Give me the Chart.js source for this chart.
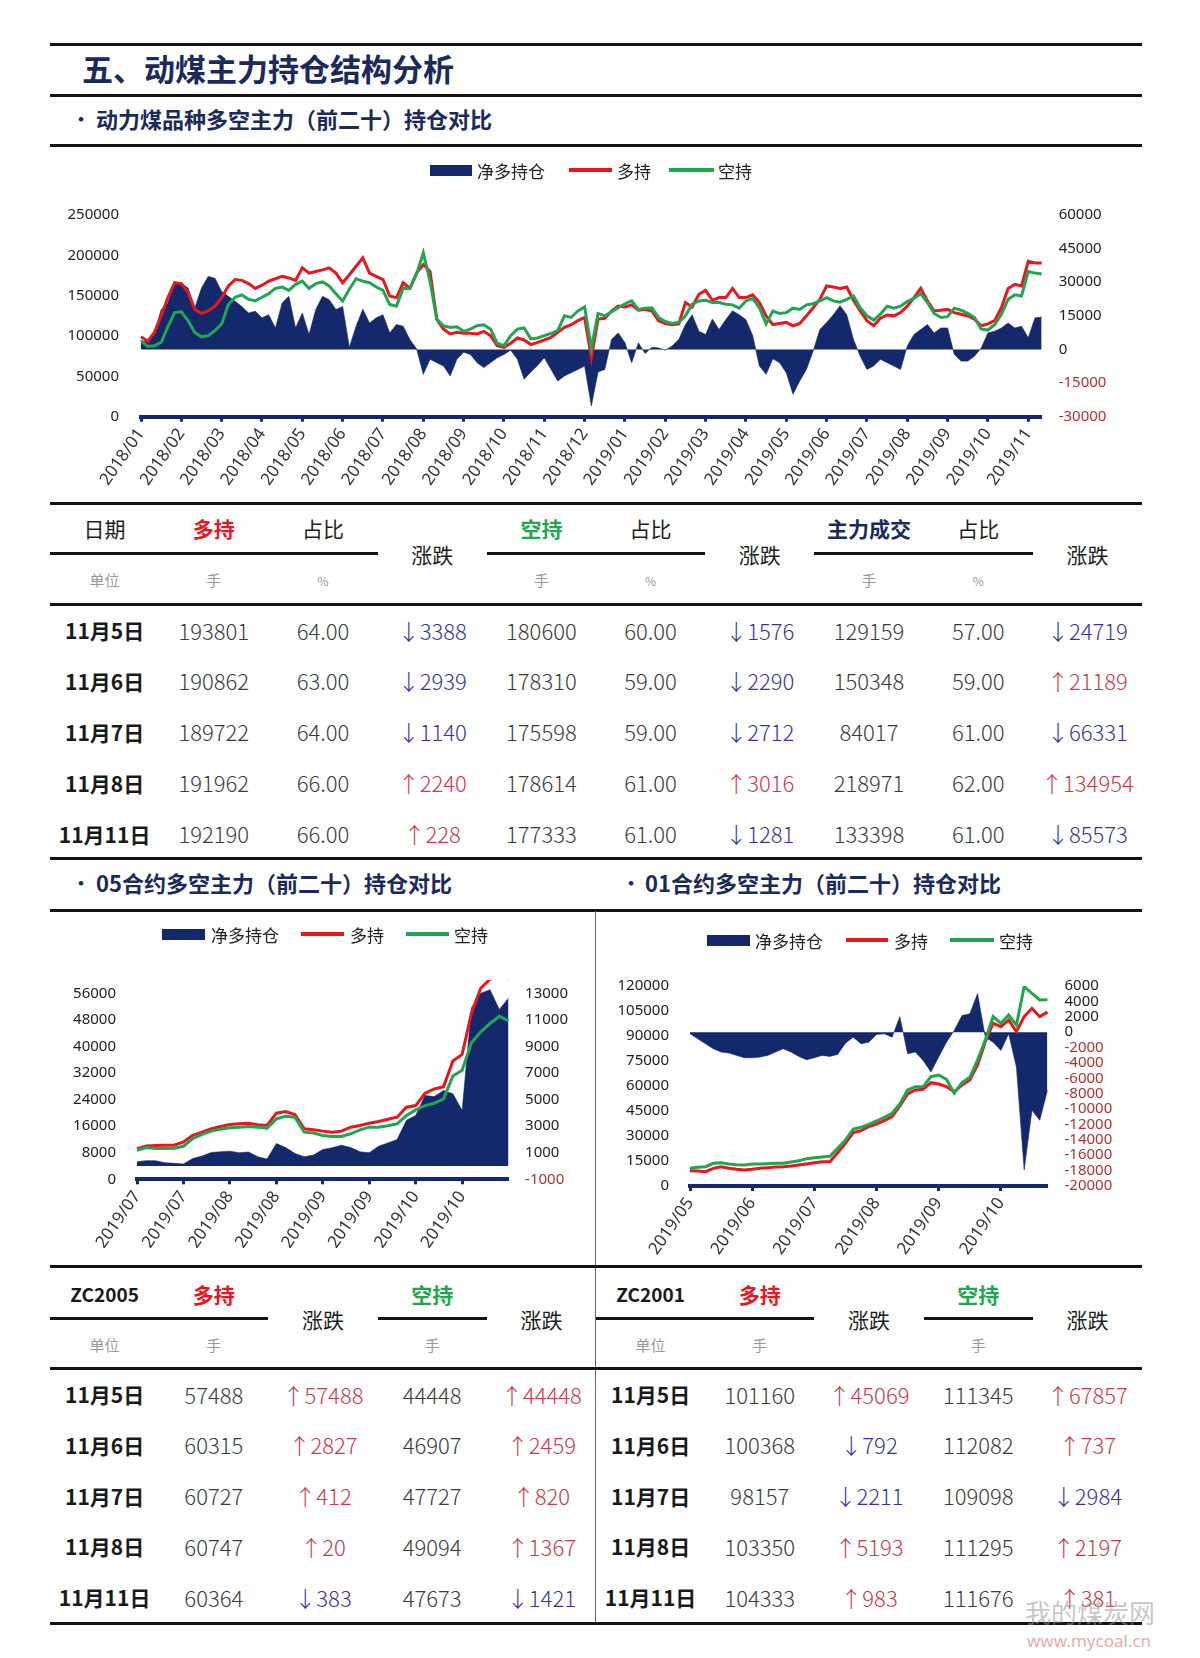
<!DOCTYPE html>
<html lang="zh-CN">
<head>
<meta charset="utf-8">
<title>动煤主力持仓结构分析</title>
<script src="https://cdn.jsdelivr.net/npm/chart.js@4.4.1/dist/chart.umd.min.js"></script>
<style>
html,body{margin:0;padding:0;background:#fff;}
#page{position:relative;width:1200px;height:1658px;overflow:hidden;background:#fff;font-family:'Noto Sans CJK SC','Noto Sans',sans-serif;color:#222;}
.rule{position:absolute;background:#141414;}
.t{position:absolute;white-space:nowrap;}
canvas{position:absolute;}
</style>
</head>
<body>
<div id="page">
  <canvas id="c1" width="1092" height="345" style="left:50px;top:150px;"></canvas>
  <canvas id="c2" width="544" height="315" style="left:50px;top:950px;"></canvas>
  <canvas id="c3" width="545" height="315" style="left:597px;top:950px;"></canvas>
</div>
<script>
// ---------------- DATA ----------------
// Chart 1: 动力煤品种多空主力（前二十）持仓对比 (6 samples per month)
const monthLabels1 = ['2018/01','2018/02','2018/03','2018/04','2018/05','2018/06','2018/07','2018/08','2018/09','2018/10','2018/11','2018/12','2019/01','2019/02','2019/03','2019/04','2019/05','2019/06','2019/07','2019/08','2019/09','2019/10','2019/11'];
const long1 = [99000,93500,104500,125000,147600,166000,165000,154000,133000,128000,131000,137000,147600,162000,170000,169000,165000,159000,163000,168000,171000,174000,172000,169000,184500,178000,180000,182000,184500,178000,166000,176000,186500,197000,178000,174000,170000,149600,147600,166000,159000,178000,188600,180000,121000,108600,102500,104500,103300,103300,102500,105800,100500,88000,86000,91000,97600,95100,89400,92200,95100,98400,104500,110700,114000,119000,123000,73000,121000,122000,131000,137000,136000,138600,132000,133000,131000,119000,115600,114000,115000,141500,136000,151700,156600,144300,147600,147600,159000,147600,147600,151000,141500,125000,114000,115600,117000,112700,115600,125000,135000,145500,162000,160700,159000,160700,144300,131000,119000,112700,122000,126000,125000,129000,137000,147600,159000,143500,131000,132000,133000,129000,127000,125000,121000,112700,115000,119000,135000,159000,164000,162000,192700,190600,190600];
const short1 = [94300,87000,88000,92000,111500,129000,130000,119000,104500,99000,100500,106600,115000,139000,148000,151000,145500,143500,148000,152500,159000,160700,156600,164000,168000,159000,165000,167000,162000,152500,143500,158000,171000,168000,166000,160700,156600,139000,137000,159000,159000,177000,203000,168000,121000,112700,110700,111500,105800,108600,112700,114000,108600,91000,88000,100500,108600,110000,96400,97600,100500,103300,106600,125000,123000,131000,136000,85000,128000,125000,130000,135000,140000,143500,133000,134500,135000,123000,118000,115600,117000,125000,139400,143500,144300,141500,141500,139400,138600,134500,143500,146800,135000,115000,131000,128000,129000,134500,133000,138600,140000,143500,147600,143500,142000,145500,149600,135000,125000,119700,127000,137000,134500,137000,142700,146800,152500,141500,128000,123000,124000,134500,132000,128000,123000,108600,107400,114000,127000,145500,151000,149600,180000,178000,177000];
const net1 = [3300,4100,7400,17800,20700,30300,29600,27400,18500,27400,32600,31800,25900,23700,21500,19200,16300,17000,14100,15500,9600,20700,23700,9600,16300,6700,17800,23700,22200,17800,19200,1000,10400,18000,11800,14100,15500,7400,11100,10400,4400,300,-11100,-4400,-5900,-7400,-11800,-4400,-1200,-2200,-5900,-8100,-5900,-3700,-2200,-300,-4400,-13300,-10000,-7100,-3700,-8900,-14100,-11800,-10400,-8900,-7400,-25200,-10000,-8900,4400,7400,3000,-5900,3000,-1800,1000,700,-300,1500,4400,11100,15500,8100,6700,13600,8900,13300,17300,15500,13300,6200,-7400,-11100,-4100,-5900,-10400,-20000,-14100,-8900,-700,8900,12000,15500,19500,15500,4400,-3000,-8900,-7400,-4400,-5900,-7400,-8900,1500,6700,8900,11100,7400,9600,9600,-2200,-5200,-5200,-3000,700,7400,8100,9600,11800,9600,10400,5200,14100,14500];
const leftTicks1 = [0,50000,100000,150000,200000,250000];
const rightTicks1 = [-30000,-15000,0,15000,30000,45000,60000];

// Chart 2: 05合约 (5 samples per tick label)
const tickLabels05 = ['2019/07','2019/07','2019/08','2019/08','2019/09','2019/09','2019/10','2019/10'];
const long05 = [9250,10050,10150,10250,10250,11250,13250,14200,15200,15900,16500,16700,16900,16400,16200,19900,20400,19500,15200,14900,14500,14200,14500,15700,16200,16900,17400,18100,18700,21700,22200,25900,27200,27900,35600,37600,50000,57500,60300,60700,60364];
const short05 = [8750,9550,9250,9250,9350,9950,12250,13500,14500,15100,15500,15700,15900,15700,15400,18200,19000,18700,14200,13950,13200,12900,12900,13700,14900,15700,15700,16100,16700,19200,20900,22200,22900,24200,31100,32800,41100,44400,46900,49094,47673];
const net05 = [320,400,400,250,200,150,570,750,1020,1070,1120,1000,1050,700,520,1690,1390,950,700,820,1250,1370,1570,1390,1070,1000,1490,1740,1990,3440,3810,5300,5230,5680,5430,4180,11900,13000,13270,11780,12650];
const leftTicks05 = [0,8000,16000,24000,32000,40000,48000,56000];
const rightTicks05 = [-1000,1000,3000,5000,7000,9000,11000,13000];

// Chart 3: 01合约 (8 samples per month)
const tickLabels01 = ['2019/05','2019/06','2019/07','2019/08','2019/09','2019/10'];
const long01 = [9200,9000,8600,10600,11600,10600,10000,9600,10000,10600,11000,11400,11600,12000,12600,13200,14000,14600,14600,20000,25600,32000,33200,35600,37200,39200,41600,48000,55200,57600,58000,62000,61200,59600,56600,60600,63600,72600,86600,97600,95600,99600,92600,101600,106600,101600,104333];
const short01 = [10600,11200,11600,13600,14000,13200,12800,12600,13200,13200,13400,13600,13600,14400,15200,16400,17000,17400,17800,22600,27600,34200,35200,37000,39000,41200,43600,49200,57600,59600,59600,65600,66600,64000,55600,62000,65200,75600,87600,101600,97600,102600,96600,119600,115600,111600,111676];
const net01 = [-200,-860,-1510,-2160,-2590,-2720,-3020,-3330,-3330,-3240,-3020,-2590,-2160,-2590,-3150,-3590,-3330,-3020,-3150,-2890,-1430,-650,-1510,-1300,-300,-220,-650,2000,-2800,-2590,-3670,-5180,-3240,-1300,220,2160,2380,5000,-650,-1300,-2380,-220,-4540,-17900,-10150,-11450,-7560];
const leftTicks01 = [0,15000,30000,45000,60000,75000,90000,105000,120000];
const rightTicks01 = [-20000,-18000,-16000,-14000,-12000,-10000,-8000,-6000,-4000,-2000,0,2000,4000,6000];

// Table 1
const dates = ['11月5日','11月6日','11月7日','11月8日','11月11日'];
const longHold = [193801,190862,189722,191962,192190];
const longPct = ['64.00','63.00','64.00','66.00','66.00'];
const longChg = [-3388,-2939,-1140,2240,228];
const shortHold = [180600,178310,175598,178614,177333];
const shortPct = ['60.00','59.00','59.00','61.00','61.00'];
const shortChg = [-1576,-2290,-2712,3016,-1281];
const mainVol = [129159,150348,84017,218971,133398];
const mainPct = ['57.00','59.00','61.00','62.00','61.00'];
const mainChg = [-24719,21189,-66331,134954,-85573];

// Table 2
const zc05Long = [57488,60315,60727,60747,60364];
const zc05LongChg = [57488,2827,412,20,-383];
const zc05Short = [44448,46907,47727,49094,47673];
const zc05ShortChg = [44448,2459,820,1367,-1421];
const zc01Long = [101160,100368,98157,103350,104333];
const zc01LongChg = [45069,-792,-2211,5193,983];
const zc01Short = [111345,112082,109098,111295,111676];
const zc01ShortChg = [67857,737,-2984,2197,381];

// ---------------- STYLE ----------------
const NAVY = '#13296b', RED = '#e8161d', GREEN = '#22a550', NEG = '#b3322f';
const TITLE = '#1b2a5a', UP = '#c93a46', DOWN = '#34349c';
const page = document.getElementById('page');

function rule(x, y, w, h, color) {
  const d = document.createElement('div');
  d.className = 'rule';
  d.style.left = x + 'px'; d.style.top = y + 'px';
  d.style.width = w + 'px'; d.style.height = h + 'px';
  if (color) d.style.background = color;
  page.appendChild(d);
}
function txt(x, y, s, o) {
  o = o || {};
  const size = o.size || 20;
  const h = Math.round(size * 1.6);
  const d = document.createElement('div');
  d.className = 't';
  d.style.top = (y - h / 2) + 'px';
  d.style.height = h + 'px';
  d.style.lineHeight = h + 'px';
  d.style.fontSize = size + 'px';
  d.style.fontWeight = o.weight || 400;
  d.style.color = o.color || '#222';
  if (o.family) d.style.fontFamily = o.family;
  if (o.align === 'left') { d.style.left = x + 'px'; d.style.textAlign = 'left'; }
  else { d.style.left = (x - 150) + 'px'; d.style.width = '300px'; d.style.textAlign = 'center'; }
  if (o.html) d.innerHTML = s; else d.textContent = s;
  page.appendChild(d);
  return d;
}
function swatch(x, y, w, h, color) { rule(x, y - h / 2, w, h, color); }

// ---------------- HEADER ----------------
rule(50, 43, 1092, 3);
txt(82, 68, '五、动煤主力持仓结构分析', {size: 31, weight: 700, color: TITLE, align: 'left'});
rule(50, 94, 1092, 3);
txt(72, 118, '•', {size: 18, weight: 700, color: TITLE, align: 'left'});
txt(96, 118, '动力煤品种多空主力（前二十）持仓对比', {size: 22, weight: 700, color: TITLE, align: 'left'});
rule(50, 144, 1092, 3);

// legend chart 1
swatch(430, 170, 42, 11, NAVY); txt(477, 170, '净多持仓', {size: 17, align: 'left'});
swatch(569, 170, 43, 4, RED);   txt(617, 170, '多持', {size: 17, align: 'left'});
swatch(669, 170, 45, 4, GREEN); txt(718, 170, '空持', {size: 17, align: 'left'});

// ---------------- TABLE 1 ----------------
const colW = 109.2, col0 = 50;
const cc = k => col0 + colW * (k + 0.5);
function chg(v) {
  const up = v >= 0;
  return '<span style="color:' + (up ? UP : DOWN) + '"><span style="font-weight:300">' + (up ? '↑' : '↓') + '</span>' + Math.abs(v) + '</span>';
}
const numStyle = {size: 22, weight: 300, color: '#3a3a3a'};
const dateStyle = {size: 21, weight: 700, color: '#1a1a1a'};
const headStyle = {size: 21, color: '#1e1e1e'};
const unitStyle = {size: 15, color: '#9a9a9a'};

rule(50, 502, 1092, 3);
txt(cc(0), 528, '日期', headStyle);
txt(cc(1), 528, '多持', {size: 21, weight: 700, color: RED});
txt(cc(2), 528, '占比', headStyle);
txt(cc(3), 554, '涨跌', headStyle);
txt(cc(4), 528, '空持', {size: 21, weight: 700, color: GREEN});
txt(cc(5), 528, '占比', headStyle);
txt(cc(6), 554, '涨跌', headStyle);
txt(cc(7), 528, '主力成交', {size: 21, weight: 700, color: TITLE});
txt(cc(8), 528, '占比', headStyle);
txt(cc(9), 554, '涨跌', headStyle);
rule(50, 552, colW * 3, 3);
rule(col0 + colW * 4, 552, colW * 2, 3);
rule(col0 + colW * 7, 552, colW * 2, 3);
txt(cc(0), 580, '单位', unitStyle);
txt(cc(1), 580, '手', unitStyle);
txt(cc(2), 580, '%', {size: 12, color: '#9a9a9a'});
txt(cc(4), 580, '手', unitStyle);
txt(cc(5), 580, '%', {size: 12, color: '#9a9a9a'});
txt(cc(7), 580, '手', unitStyle);
txt(cc(8), 580, '%', {size: 12, color: '#9a9a9a'});
rule(50, 603, 1092, 3);
dates.forEach((d, r) => {
  const y = 630 + 50.9 * r;
  txt(cc(0), y, d, dateStyle);
  txt(cc(1), y, String(longHold[r]), numStyle);
  txt(cc(2), y, longPct[r], numStyle);
  txt(cc(3), y, chg(longChg[r]), Object.assign({html: true}, numStyle));
  txt(cc(4), y, String(shortHold[r]), numStyle);
  txt(cc(5), y, shortPct[r], numStyle);
  txt(cc(6), y, chg(shortChg[r]), Object.assign({html: true}, numStyle));
  txt(cc(7), y, String(mainVol[r]), numStyle);
  txt(cc(8), y, mainPct[r], numStyle);
  txt(cc(9), y, chg(mainChg[r]), Object.assign({html: true}, numStyle));
});
rule(50, 857, 1092, 3);

// ---------------- SECTION 2 HEADERS ----------------
txt(72, 882, '•', {size: 18, weight: 700, color: TITLE, align: 'left'});
txt(96, 882, '05合约多空主力（前二十）持仓对比', {size: 22, weight: 700, color: TITLE, align: 'left'});
txt(622, 882, '•', {size: 18, weight: 700, color: TITLE, align: 'left'});
txt(645, 882, '01合约多空主力（前二十）持仓对比', {size: 22, weight: 700, color: TITLE, align: 'left'});
rule(50, 909, 1092, 3);
rule(595, 911, 1, 713, '#666');

swatch(162, 934, 43, 11, NAVY); txt(211, 934, '净多持仓', {size: 17, align: 'left'});
swatch(301, 934, 43, 4, RED);   txt(350, 934, '多持', {size: 17, align: 'left'});
swatch(406, 934, 43, 4, GREEN); txt(454, 934, '空持', {size: 17, align: 'left'});

swatch(707, 940, 43, 11, NAVY); txt(755, 940, '净多持仓', {size: 17, align: 'left'});
swatch(846, 940, 42, 4, RED);   txt(894, 940, '多持', {size: 17, align: 'left'});
swatch(950, 940, 44, 4, GREEN); txt(999, 940, '空持', {size: 17, align: 'left'});

// ---------------- TABLE 2 ----------------
rule(50, 1265, 1092, 3);
txt(cc(0), 1294, 'ZC2005', {size: 19, weight: 700, color: '#1a1a1a'});
txt(cc(1), 1294, '多持', {size: 21, weight: 700, color: RED});
txt(cc(2), 1319, '涨跌', headStyle);
txt(cc(3), 1294, '空持', {size: 21, weight: 700, color: GREEN});
txt(cc(4), 1319, '涨跌', headStyle);
txt(cc(5), 1294, 'ZC2001', {size: 19, weight: 700, color: '#1a1a1a'});
txt(cc(6), 1294, '多持', {size: 21, weight: 700, color: RED});
txt(cc(7), 1319, '涨跌', headStyle);
txt(cc(8), 1294, '空持', {size: 21, weight: 700, color: GREEN});
txt(cc(9), 1319, '涨跌', headStyle);
rule(50, 1317, colW * 2, 3);
rule(col0 + colW * 3, 1317, colW, 3);
rule(col0 + colW * 5, 1317, colW * 2, 3);
rule(col0 + colW * 8, 1317, colW, 3);
txt(cc(0), 1345, '单位', unitStyle);
txt(cc(1), 1345, '手', unitStyle);
txt(cc(3), 1345, '手', unitStyle);
txt(cc(5), 1345, '单位', unitStyle);
txt(cc(6), 1345, '手', unitStyle);
txt(cc(8), 1345, '手', unitStyle);
rule(50, 1367, 1092, 3);
dates.forEach((d, r) => {
  const y = 1394 + 50.8 * r;
  txt(cc(0), y, d, dateStyle);
  txt(cc(1), y, String(zc05Long[r]), numStyle);
  txt(cc(2), y, chg(zc05LongChg[r]), Object.assign({html: true}, numStyle));
  txt(cc(3), y, String(zc05Short[r]), numStyle);
  txt(cc(4), y, chg(zc05ShortChg[r]), Object.assign({html: true}, numStyle));
  txt(cc(5), y, d, dateStyle);
  txt(cc(6), y, String(zc01Long[r]), numStyle);
  txt(cc(7), y, chg(zc01LongChg[r]), Object.assign({html: true}, numStyle));
  txt(cc(8), y, String(zc01Short[r]), numStyle);
  txt(cc(9), y, chg(zc01ShortChg[r]), Object.assign({html: true}, numStyle));
});
rule(50, 1622, 1092, 3);

// watermark
txt(1025, 1612, '我的煤炭网', {size: 26, color: 'rgba(150,150,150,0.55)', align: 'left'});
txt(1027, 1640, 'www.mycoal.cn', {size: 17, color: 'rgba(215,110,110,0.6)', align: 'left', family: "'Noto Sans', sans-serif"});

// ---------------- CHARTS ----------------
Chart.defaults.font.family = "'Noto Sans', 'Noto Sans CJK SC', sans-serif";
Chart.defaults.color = '#222';

function dualChart(id, o) {
  return new Chart(document.getElementById(id), {
    type: 'line',
    data: {
      labels: o.labels,
      datasets: [
        {label: '净多持仓', data: o.net, yAxisID: 'y2', fill: 'origin', backgroundColor: NAVY, borderColor: NAVY, borderWidth: 0.6, pointRadius: 0, tension: 0, order: 3},
        {label: '多持', data: o.long, yAxisID: 'y', fill: false, borderColor: RED, borderWidth: 3, pointRadius: 0, tension: 0, order: 2},
        {label: '空持', data: o.short, yAxisID: 'y', fill: false, borderColor: GREEN, borderWidth: 3, pointRadius: 0, tension: 0, order: 1}
      ]
    },
    options: {
      responsive: false,
      animation: false,
      events: [],
      layout: {padding: {top: o.padTop, left: 0, right: 0, bottom: 0}},
      plugins: {legend: {display: false}, tooltip: {enabled: false}},
      scales: {
        x: {
          type: 'category', offset: false,
          grid: {display: true, drawOnChartArea: false, drawTicks: true, tickLength: 5, tickWidth: 3, tickColor: NAVY, color: NAVY, offset: false},
          border: {display: true, color: NAVY, width: 4},
          ticks: {autoSkip: false, maxRotation: 55, minRotation: 55, padding: 3, font: {size: 17}, color: '#333'},
          afterBuildTicks: ax => { ax.ticks = ax.ticks.filter(t => o.tickAt(t.value)); },
          afterFit: ax => { ax.height = o.xH; }
        },
        y: {
          position: 'left', min: o.yMin, max: o.yMax,
          grid: {display: false, drawTicks: false}, border: {display: false},
          ticks: {autoSkip: false, padding: o.yPad, font: {size: 15}, color: '#222', callback: v => String(v)},
          afterBuildTicks: ax => { ax.ticks = o.yTicks.map(v => ({value: v})); },
          afterFit: ax => { ax.width = o.yW; }
        },
        y2: {
          position: 'right', min: o.y2Min, max: o.y2Max,
          grid: {display: false, drawTicks: false}, border: {display: false},
          ticks: {autoSkip: false, padding: o.y2Pad, font: {size: 15}, callback: v => String(v),
                  color: c => (c.tick && c.tick.value < 0) ? NEG : '#222'},
          afterBuildTicks: ax => { ax.ticks = o.y2Ticks.map(v => ({value: v})); },
          afterFit: ax => { ax.width = o.y2W; }
        }
      }
    }
  });
}

dualChart('c1', {
  labels: net1.map((_, i) => monthLabels1[Math.floor(i / 6)]),
  net: net1, long: long1, short: short1,
  tickAt: i => i % 6 === 0,
  yMin: 0, yMax: 250000, yTicks: leftTicks1,
  y2Min: -30000, y2Max: 60000, y2Ticks: rightTicks1,
  padTop: 65, yW: 91, yPad: 22, y2W: 100.3, y2Pad: 17, xH: 78.3
});

dualChart('c2', {
  labels: net05.map((_, i) => tickLabels05[Math.min(Math.floor(i / 5), tickLabels05.length - 1)]),
  net: net05, long: long05, short: short05,
  tickAt: i => i % 5 === 0 && i / 5 < tickLabels05.length,
  yMin: 0, yMax: 60000, yTicks: leftTicks05,
  y2Min: -1000, y2Max: 14000, y2Ticks: rightTicks05,
  padTop: 28.3, yW: 87, yPad: 21, y2W: 85.4, y2Pad: 16.5, xH: 85.7
});

dualChart('c3', {
  labels: net01.map((_, i) => tickLabels01[Math.min(Math.floor(i / 8), tickLabels01.length - 1)]),
  net: net01, long: long01, short: short01,
  tickAt: i => i % 8 === 0 && i / 8 < tickLabels01.length,
  yMin: 0, yMax: 120000, yTicks: leftTicks01,
  y2Min: -20000, y2Max: 6000, y2Ticks: rightTicks01,
  padTop: 36, yW: 93, yPad: 21, y2W: 94.5, y2Pad: 17, xH: 79
});
</script>
</body>
</html>
